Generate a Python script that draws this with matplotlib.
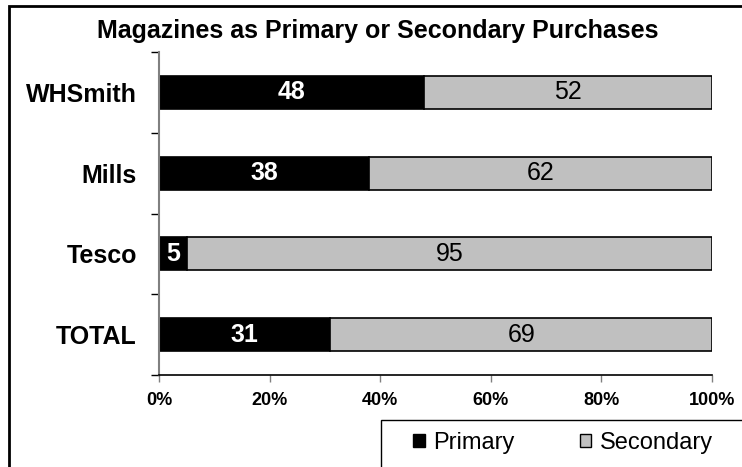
import numpy as np
import matplotlib
matplotlib.use("Agg")
import matplotlib.pyplot as plt
from matplotlib.patches import Patch, Rectangle

plt.rcParams['font.family'] = ['Liberation Sans', 'DejaVu Sans']

# data
stores = ["WHSmith", "Mills", "Tesco", "TOTAL"]
primary = [48, 38, 5, 31]
secondary = [52, 62, 95, 69]
xticks = [0, 20, 40, 60, 80, 100]

fig = plt.figure(figsize=(7.42, 4.67), dpi=100)
ax = fig.add_axes([159/742, 1 - 375/467, 553/742, 323/467])

y = np.arange(len(stores))
h = 0.41
ax.barh(y, primary, height=h, color="black", edgecolor="black", linewidth=1.2)
ax.barh(y, secondary, left=primary, height=h, color="#C0C0C0",
        edgecolor="black", linewidth=1.2)

# value labels inside the bars
for i in range(len(stores)):
    ax.text(primary[i] / 2, y[i], str(primary[i]), color="white",
            fontsize=18, fontweight="bold", ha="center", va="center")
    ax.text(primary[i] + secondary[i] / 2, y[i], str(secondary[i]),
            color="black", fontsize=18, ha="center", va="center")

ax.set_xlim(0, 100)
ax.set_ylim(len(stores) - 0.5, -0.5)
ax.set_xticks(xticks)
ax.set_xticklabels([f"{t}%" for t in xticks], fontsize=13, fontweight="bold")
ax.tick_params(axis="x", length=5, width=1, color="#808080", pad=7)

# ticks at category boundaries, labels at centres
ax.set_yticks(np.arange(len(stores) + 1) - 0.5)
ax.set_yticklabels([])
ax.tick_params(axis="y", which="major", length=6, width=1, color="black")
ax.set_yticks(y, minor=True)
ax.set_yticklabels(stores, minor=True, fontsize=18, fontweight="bold")
ax.tick_params(axis="y", which="minor", length=0, pad=16)

for s in ["top", "right"]:
    ax.spines[s].set_visible(False)
ax.spines["left"].set_color("#808080")
ax.spines["left"].set_linewidth(1.5)
ax.spines["bottom"].set_color("black")
ax.spines["bottom"].set_linewidth(1.2)

fig.text(378/742, 1 - 31/467, "Magazines as Primary or Secondary Purchases",
         ha="center", va="center", fontsize=18, fontweight="bold")

# outer chart border (cropped at right and bottom)
fig.patches.append(Rectangle((9/742, -0.2), 1.2, 1 - 6/467 + 0.2,
                             transform=fig.transFigure, fill=False,
                             edgecolor="black", linewidth=2))
# legend box
fig.patches.append(Rectangle((381/742, -0.2), 0.7, 0.2 + 1 - 420/467,
                             transform=fig.transFigure, fill=False,
                             edgecolor="black", linewidth=1))

handles = [Patch(facecolor="black", edgecolor="black", label="Primary"),
           Patch(facecolor="#C0C0C0", edgecolor="black", label="Secondary")]
fig.legend(handles=handles, ncol=2, frameon=False, fontsize=17,
           loc="center left", bbox_to_anchor=(392/742, 1 - 443/467),
           handlelength=0.5, handleheight=0.5, handletextpad=0.35,
           columnspacing=2.75)

fig.savefig("out.png", dpi=100)
